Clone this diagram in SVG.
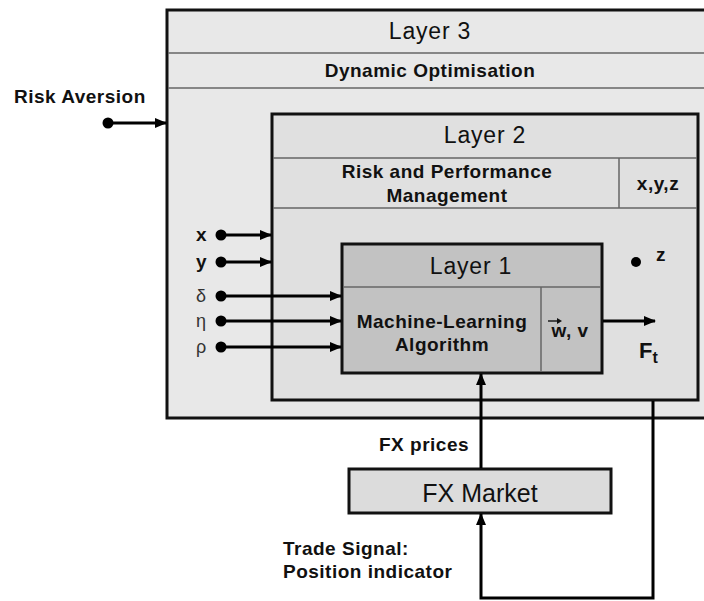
<svg xmlns="http://www.w3.org/2000/svg" width="704" height="601" viewBox="0 0 704 601">
<defs>
<marker id="ah" markerWidth="12" markerHeight="10" refX="11" refY="5" orient="auto" markerUnits="userSpaceOnUse">
<path d="M0,0 L12,5 L0,10 Z" fill="#000"/>
</marker>
<style>
text{font-family:"Liberation Sans",Arial,sans-serif;fill:#111}
.b{font-weight:bold;font-size:19px;letter-spacing:0.5px}
.t{font-size:23px;letter-spacing:0.8px}
.box{stroke:#111;stroke-width:3}
.div{stroke:#666;stroke-width:1.5}
.con{stroke:#000;stroke-width:3;fill:none}
.dot{fill:#000}
.g{font-size:18px;fill:#333}
</style>
</defs>
<rect width="704" height="601" fill="#fff"/>
<g id="layer3">
<rect class="box" x="167" y="10" width="560" height="408" fill="#e8e8e8"/>
<line class="div" x1="168" y1="53" x2="704" y2="53"/>
<line class="div" x1="168" y1="88" x2="704" y2="88"/>
<text class="t" x="430" y="39" text-anchor="middle">Layer 3</text>
<text class="b" x="430" y="77" text-anchor="middle">Dynamic Optimisation</text>
</g>
<g id="layer2">
<rect class="box" x="272" y="114" width="426" height="286" fill="#e0e0e0"/>
<line class="div" x1="273" y1="158" x2="697" y2="158"/>
<line class="div" x1="273" y1="208" x2="697" y2="208"/>
<line class="div" x1="619" y1="158" x2="619" y2="208"/>
<text class="t" x="485" y="143" text-anchor="middle">Layer 2</text>
<text class="b" x="447" y="178" text-anchor="middle">Risk and Performance</text>
<text class="b" x="447" y="202" text-anchor="middle">Management</text>
<text class="b" x="658" y="190" text-anchor="middle">x,y,z</text>
</g>
<g id="layer1">
<rect class="box" x="342" y="244" width="260" height="129" fill="#c2c2c2"/>
<line class="div" x1="343" y1="287" x2="601" y2="287"/>
<line class="div" x1="541" y1="287" x2="541" y2="372"/>
<text class="t" x="471" y="274" text-anchor="middle">Layer 1</text>
<text class="b" x="442" y="328" text-anchor="middle">Machine-Learning</text>
<text class="b" x="442" y="351" text-anchor="middle">Algorithm</text>
<text class="b" x="570" y="337" text-anchor="middle">w, v</text>
<line x1="548" y1="321" x2="560" y2="321" stroke="#111" stroke-width="1.4"/>
<path d="M557,318 L562,321 L557,324 Z" fill="#111"/>
</g>
<g id="fxmarket">
<rect class="box" x="349" y="469" width="262" height="44" fill="#dcdcdc"/>
<text x="480" y="502" font-size="25" text-anchor="middle">FX Market</text>
</g>
<g id="connectors">
<circle class="dot" cx="108" cy="123" r="5.5"/>
<line class="con" x1="108" y1="123" x2="166" y2="123" marker-end="url(#ah)"/>
<circle class="dot" cx="221" cy="235" r="5.5"/>
<line class="con" x1="221" y1="235" x2="271" y2="235" marker-end="url(#ah)"/>
<circle class="dot" cx="221" cy="262" r="5.5"/>
<line class="con" x1="221" y1="262" x2="271" y2="262" marker-end="url(#ah)"/>
<circle class="dot" cx="221" cy="296" r="5.5"/>
<line class="con" x1="221" y1="296" x2="341" y2="296" marker-end="url(#ah)"/>
<circle class="dot" cx="221" cy="321" r="5.5"/>
<line class="con" x1="221" y1="321" x2="341" y2="321" marker-end="url(#ah)"/>
<circle class="dot" cx="221" cy="347" r="5.5"/>
<line class="con" x1="221" y1="347" x2="341" y2="347" marker-end="url(#ah)"/>
<line class="con" x1="603" y1="321" x2="655" y2="321" marker-end="url(#ah)"/>
<circle class="dot" cx="636" cy="262" r="5"/>
<line class="con" x1="481" y1="468" x2="481" y2="374" marker-end="url(#ah)"/>
<polyline class="con" points="653,401 653,598 481,598 481,514" marker-end="url(#ah)"/>
</g>
<g id="labels">
<text class="b" x="14" y="103">Risk Aversion</text>
<text class="b" x="196" y="241" font-size="20">x</text>
<text class="b" x="196" y="268" font-size="20">y</text>
<text class="g" x="196" y="302">δ</text>
<text class="g" x="196" y="327">η</text>
<text class="g" x="196" y="353">ρ</text>
<text class="b" x="656" y="261">z</text>
<text x="639" y="358" font-size="22" font-weight="bold">F<tspan font-size="16" dy="5">t</tspan></text>
<text class="b" x="379" y="451">FX prices</text>
<text class="b" x="283" y="555">Trade Signal:</text>
<text class="b" x="283" y="578">Position indicator</text>
</g>
</svg>
